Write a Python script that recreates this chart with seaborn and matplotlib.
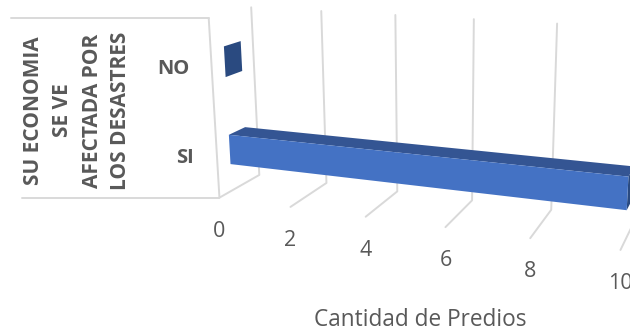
import numpy as np
import matplotlib
matplotlib.use("Agg")
import matplotlib.pyplot as plt
from matplotlib.patches import Polygon
from matplotlib.transforms import Transform
import seaborn as sns

# Survey answers and their parcel counts
categories = ["SI", "NO"]
counts = [10, 0]
value_ticks = [0, 2, 4, 6, 8, 10]
category_title = "SU ECONOMIA\nSE VE\nAFECTADA POR\nLOS DESASTRES"
value_title = "Cantidad de Predios"

FRONT_COLOR = "#4472C4"
TOP_COLOR = "#345593"
END_COLOR = "#2A4A80"
GRID_COLOR = "#D9D9D9"
TEXT_COLOR = "#595959"

# Where known corners of the 3D chart box land on the canvas: (value, depth, height) -> (x, y)
box_space = np.array([
    [0, 0, 0], [0, 1, 0], [0, 1, 1], [0, 0, 1],
    [2, 0, 0], [2, 1, 0], [2, 1, 1],
    [4, 0, 0], [4, 1, 0], [4, 1, 1],
    [6, 0, 0], [6, 1, 0], [6, 1, 1],
    [8, 0, 0], [8, 1, 0], [8, 1, 1],
    [10, 0, 0],
], dtype=float)
canvas_space = np.array([
    [219, 197], [260, 175], [251, 7], [209, 19],
    [290, 207], [326.5, 183], [321, 11],
    [365.5, 217], [397, 192], [395.5, 15],
    [446, 227], [472, 200], [474, 19],
    [531, 238], [551, 210], [557, 23.5],
    [620, 250],
], dtype=float)


def fit_camera(world, image):
    # Direct linear transform for a 3x4 projective camera
    rows = []
    for (X, Y, Z), (u, v) in zip(world, image):
        p = [X, Y, Z, 1]
        rows.append(p + [0, 0, 0, 0] + [-u * c for c in p])
        rows.append([0, 0, 0, 0] + p + [-v * c for c in p])
    return np.linalg.svd(np.array(rows))[2][-1].reshape(3, 4)


CAMERA = fit_camera(box_space, canvas_space)


def project(value, depth, height):
    u, v, w = CAMERA @ np.array([value, depth, height, 1.0])
    return u / w, v / w


BAR_NEAR, BAR_FAR = 0.30, 0.70
BAR_WIDTH = 0.342


def category_height(y):
    # Category slots split the wall height in two
    return (np.asarray(y, dtype=float) + 0.5) / 2 - 0.008


class FrontFace(Transform):
    """Maps (value, category position) onto the bars' front plane."""
    input_dims = 2
    output_dims = 2
    has_inverse = False

    def transform_non_affine(self, values):
        values = np.asarray(values, dtype=float)
        return np.array([project(v, BAR_NEAR, category_height(y)) for v, y in values])


sns.set_theme(style="white")
plt.rcParams["font.family"] = ["Open Sans", "DejaVu Sans"]

fig = plt.figure(figsize=(6.3, 3.33), dpi=100)
ax = fig.add_axes([0, 0, 1, 1])

sns.barplot(x=counts, y=categories, orient="h", color=FRONT_COLOR,
            saturation=1, width=BAR_WIDTH, ax=ax, zorder=5)
for bar in ax.patches:
    bar.set_transform(FrontFace() + ax.transData)
    bar.set_linewidth(0)
    bar.set_clip_on(False)

ax.set_xlim(0, 630)
ax.set_ylim(333, 0)
ax.set_axis_off()


def grid_line(*corners):
    xs, ys = zip(*corners)
    ax.plot(xs, ys, color=GRID_COLOR, lw=1.4, zorder=1, solid_capstyle="round")


# Category wall: its front edge, and the two rails running out to the label panel
grid_line(project(0, 0, 1), project(0, 0, 0))
for h, left in ((1, 11), (0, 22)):
    x, y = project(0, 0, h)
    grid_line((left, y), (x, y))

# Value gridlines: across the floor, then up the back wall
for v in value_ticks:
    grid_line(project(v, 0, 0), project(v, 1, 0), project(v, 1, 1))
    x, y = project(v, 0, 0)
    ax.text(x, y + 33.5, str(v), ha="center", va="center", fontsize=15.5,
            color=TEXT_COLOR, clip_on=False)

# Top and end faces of each bar
for y_pos, count in enumerate(counts):
    low = category_height(y_pos - BAR_WIDTH / 2)
    high = category_height(y_pos + BAR_WIDTH / 2)
    if count > 0:
        top = [project(0, BAR_NEAR, high), project(count, BAR_NEAR, high),
               project(count, BAR_FAR, high), project(0, BAR_FAR, high)]
        ax.add_patch(Polygon(top, closed=True, fc=TOP_COLOR, lw=0, zorder=4))
    end = [project(count, BAR_NEAR, low), project(count, BAR_NEAR, high),
           project(count, BAR_FAR, high), project(count, BAR_FAR, low)]
    ax.add_patch(Polygon(end, closed=True, fc=END_COLOR, lw=0, zorder=4))

# Category labels and axis titles
ax.text(173, 68.5, categories[1], ha="center", va="center", fontsize=14.5,
        fontweight="bold", color=TEXT_COLOR)
ax.text(185, 158, categories[0], ha="center", va="center", fontsize=14.5,
        fontweight="bold", color=TEXT_COLOR)
ax.text(77.5, 110.5, category_title, rotation=90, ha="center", va="center",
        multialignment="center", fontsize=15, fontweight="bold",
        color=TEXT_COLOR, linespacing=1.5)
ax.text(420, 320.5, value_title, ha="center", va="center", fontsize=16.3,
        color=TEXT_COLOR)

fig.savefig("out.png", dpi=100, facecolor="white")
